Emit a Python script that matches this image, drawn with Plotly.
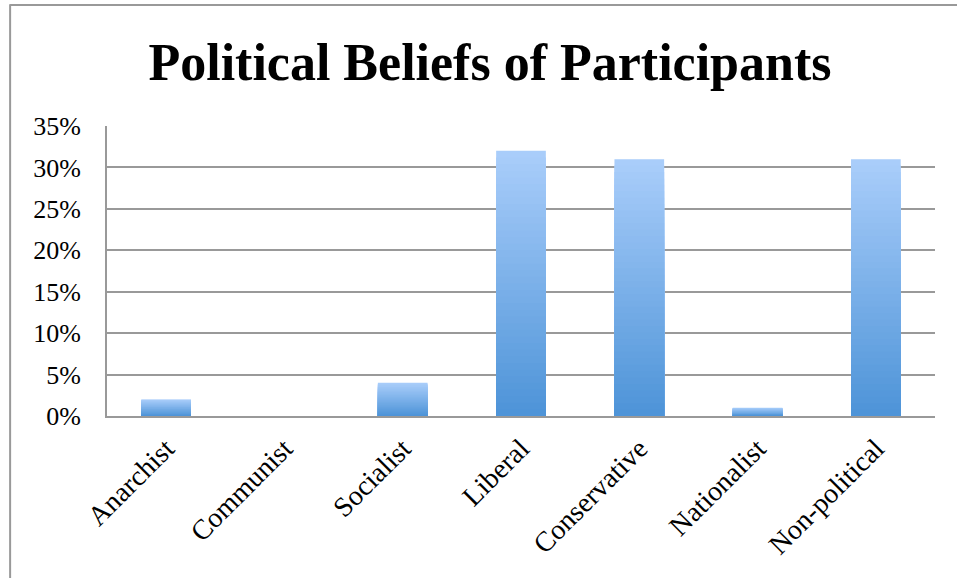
import plotly.graph_objects as go

categories = ["Anarchist", "Communist", "Socialist", "Liberal", "Conservative", "Nationalist", "Non-political"]
values = [0.02, 0.0, 0.04, 0.32, 0.31, 0.01, 0.31]
tick_vals = [0, 0.05, 0.10, 0.15, 0.20, 0.25, 0.30, 0.35]
tick_text = ["0%", "5%", "10%", "15%", "20%", "25%", "30%", "35%"]

top_rgb = (169, 205, 250)
bot_rgb = (78, 148, 216)
n_layers = 40

fig = go.Figure()
for i in range(n_layers):
    f = 1 - i / n_layers  # fraction of height, drawn from full to small
    t = i / (n_layers - 1)
    c = tuple(round(top_rgb[k] + (bot_rgb[k] - top_rgb[k]) * t) for k in range(3))
    fig.add_trace(go.Bar(
        x=categories, y=[v * f for v in values],
        marker=dict(color="rgb(%d,%d,%d)" % c, line=dict(width=0)),
        width=0.42, showlegend=False, hoverinfo="skip"))

fig.update_layout(
    width=957, height=578,
    barmode="overlay",
    margin=dict(l=107, r=22, t=126, b=162),
    paper_bgcolor="white", plot_bgcolor="white",
    title=dict(text="<b>Political Beliefs of Participants</b>",
               x=0.512, xanchor="center", y=0.893, yanchor="middle",
               font=dict(family="Liberation Serif", size=52, color="black")),
    xaxis=dict(showgrid=False, tickangle=-45, showline=True, linecolor="#999999", linewidth=2,
               tickfont=dict(family="Liberation Serif", size=28, color="black"),
               ticklabelstandoff=3, ticks=""),
    yaxis=dict(range=[0, 0.35], tickvals=tick_vals, ticktext=tick_text,
               showgrid=True, gridcolor="#999999", gridwidth=2,
               showline=True, linecolor="#999999", linewidth=2,
               zeroline=False, ticks="", ticklabelstandoff=19,
               tickfont=dict(family="Liberation Serif", size=26, color="black")),
    shapes=[
        dict(type="line", xref="paper", yref="paper", x0=-0.117, x1=-0.117, y0=1.42, y1=-0.6,
             line=dict(color="#999999", width=2)),
        dict(type="line", xref="paper", yref="paper", x0=-0.117, x1=1.1, y0=1.417, y1=1.417,
             line=dict(color="#999999", width=2)),
    ],
)
fig.write_html("out.html")
